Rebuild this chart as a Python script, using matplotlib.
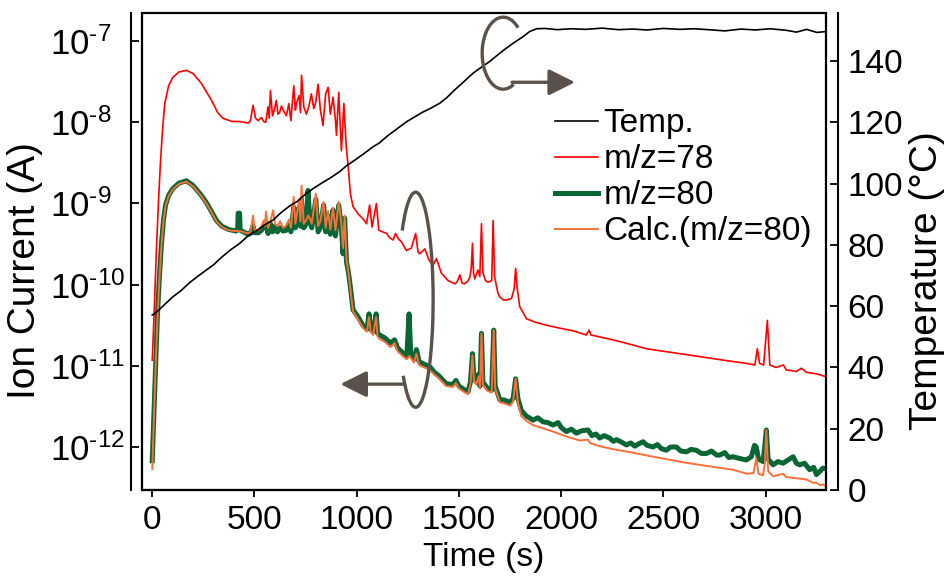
import numpy as np
import matplotlib
matplotlib.use("Agg")
import matplotlib.pyplot as plt
from matplotlib.patches import Arc, Rectangle
from matplotlib.ticker import FixedLocator, FuncFormatter, NullLocator

plt.rcParams['font.family'] = ['Liberation Sans', 'DejaVu Sans']
plt.rcParams['mathtext.fontset'] = 'custom'
plt.rcParams['mathtext.rm'] = 'Liberation Sans'
plt.rcParams['mathtext.default'] = 'regular'

# ---------------- data ----------------
# m/z = 78 : time (s), log10(ion current / A)
t78 = [0, 10, 20, 30, 40, 50, 61, 80, 100, 130, 167, 200, 240, 290, 320, 345, 390, 428, 470, 480,
       493, 505, 518, 534, 545, 555, 566, 572, 578, 588, 597, 607, 615, 623, 632, 640, 656, 668, 678,
       692, 700, 705, 718, 725, 730, 741, 754, 767, 778, 790, 800, 811, 822, 835, 848, 860, 871, 884,
       896, 901, 912, 925, 937, 949, 957, 969, 982, 1007, 1031, 1048, 1063, 1075, 1096, 1108, 1146,
       1160, 1178, 1190, 1205, 1218, 1243, 1267, 1288, 1300, 1308, 1333, 1354, 1373, 1390, 1414, 1447,
       1480, 1490, 1505, 1515, 1529, 1545, 1553, 1560, 1566, 1571, 1577, 1593, 1602, 1610, 1617, 1630,
       1642, 1660, 1667, 1674, 1690, 1699, 1718, 1732, 1757, 1770, 1777, 1785, 1797, 1830, 1870, 1928,
       2000, 2060, 2123, 2136, 2145, 2200, 2253, 2330, 2417, 2500, 2580, 2660, 2742, 2820, 2906, 2947,
       2959, 2970, 2990, 3008, 3020, 3050, 3087, 3100, 3150, 3175, 3200, 3250, 3297]
m78_log10 = [-10.93, -10.3, -9.6, -9.0, -8.5, -8.1, -7.77, -7.55, -7.45, -7.38, -7.36, -7.40, -7.52,
             -7.73, -7.88, -7.95, -7.99, -7.99, -8.01, -7.98,
             -7.79, -7.95, -7.98, -7.94, -7.99, -8.00, -7.81, -7.95, -7.61, -7.92, -7.85, -7.73, -7.90,
             -7.88, -7.80, -7.85, -7.92, -7.77, -7.98,
             -7.55, -7.85, -7.77, -7.67, -7.88, -7.42, -7.81, -7.90, -7.79, -7.65, -7.83, -7.75, -7.53,
             -7.84, -8.04, -7.65, -7.57, -7.90, -7.69,
             -7.98, -8.16, -7.63, -8.35, -7.77, -8.31, -8.51, -8.88, -9.04, -9.13, -9.19, -9.25, -9.02,
             -9.29, -9.00, -9.33, -9.37,
             -9.42, -9.45, -9.37, -9.44, -9.47, -9.58, -9.55, -9.37, -9.60, -9.62, -9.56, -9.70, -9.76,
             -9.68, -9.86, -9.95,
             -9.99, -9.97, -9.88, -9.98, -9.99, -9.95, -9.91, -9.80, -9.49, -9.85, -9.93, -9.82, -9.90,
             -9.25, -9.85, -9.95,
             -9.97, -9.95, -9.21, -9.90, -10.10, -10.15, -10.19, -10.19, -10.17, -10.05, -9.80, -10.05,
             -10.27, -10.42, -10.46, -10.50,
             -10.54, -10.57, -10.62, -10.56, -10.62, -10.65, -10.68, -10.73, -10.79, -10.82, -10.85,
             -10.88, -10.91, -10.94, -10.97, -10.99,
             -10.79, -10.97, -10.99, -10.44, -10.99, -11.02, -10.99, -11.05, -11.07, -11.03, -11.08,
             -11.10, -11.135]

# m/z = 80 (measured)
t80 = [0, 8, 16, 25, 35, 45, 55, 65, 80, 100, 130, 167, 200, 240, 265, 290, 314, 340, 373, 410, 418,
       420, 427, 430, 470, 480, 493, 500, 520, 534, 545, 556, 566, 578, 588, 600, 612, 625, 640, 656,
       668, 678, 692, 700, 718, 725, 730, 741, 754, 762, 770, 780, 800, 811, 822, 838, 848, 860, 871,
       884, 896, 912, 925, 933, 941, 950, 960, 969, 982, 1007, 1030, 1050, 1060, 1068, 1080, 1095,
       1102, 1112, 1140, 1165, 1185, 1200, 1225, 1245, 1256, 1264, 1280, 1292, 1305, 1330, 1357, 1380,
       1400, 1438, 1470, 1485, 1500, 1530, 1544, 1556, 1566, 1573, 1585, 1597, 1603, 1610, 1617, 1640,
       1660, 1670, 1677, 1700, 1718, 1750, 1765, 1777, 1788, 1805, 1830, 1850, 1862, 1885, 1911, 1935,
       1960, 1985, 2000, 2025, 2050, 2074, 2100, 2131, 2150, 2170, 2188, 2210, 2237, 2255, 2270, 2295,
       2319, 2340, 2360, 2380, 2400, 2420, 2449, 2470, 2490, 2514, 2535, 2563, 2585, 2612, 2635, 2661,
       2685, 2710, 2735, 2760, 2775, 2800, 2820, 2840, 2870, 2905, 2930, 2945, 2954, 2965, 2987, 2995,
       3003, 3012, 3036, 3060, 3085, 3110, 3134, 3150, 3166, 3190, 3215, 3235, 3248, 3265, 3280, 3297]
m80_log10 = [-12.17, -11.6, -11.0, -10.4, -9.9, -9.5, -9.2, -9.02, -8.90, -8.82, -8.75, -8.72, -8.78,
             -8.90, -8.99, -9.10, -9.21, -9.28, -9.32, -9.34, -9.30,
             -9.12, -9.12, -9.33, -9.38, -9.37, -9.28, -9.36, -9.36, -9.33, -9.30, -9.22, -9.37, -9.25,
             -9.35, -9.28, -9.35, -9.30, -9.34, -9.33,
             -9.25, -9.35, -9.05, -9.30, -9.05, -9.28, -8.95, -9.30, -9.25, -8.84, -9.20, -9.30, -8.95,
             -9.35, -9.30, -9.02, -9.35, -9.15, -9.38,
             -9.08, -9.40, -9.02, -9.30, -9.62, -9.18, -9.72, -9.86, -10.03, -10.31, -10.40, -10.50,
             -10.55, -10.36, -10.55, -10.58, -10.36,
             -10.60, -10.62, -10.66, -10.72, -10.68, -10.78, -10.84, -10.88, -10.36, -10.85, -10.92,
             -10.80, -10.95, -10.98, -11.01, -11.08,
             -11.12, -11.22, -11.23, -11.18, -11.25, -11.30, -11.32, -11.20, -10.85, -11.15, -11.20,
             -11.10, -11.25, -10.60, -11.20, -11.28,
             -11.30, -10.56, -11.25, -11.42, -11.42, -11.45, -11.40, -11.16, -11.40, -11.55, -11.62,
             -11.65, -11.67, -11.64, -11.69, -11.70,
             -11.73, -11.70, -11.76, -11.81, -11.78, -11.83, -11.80, -11.79, -11.86, -11.84, -11.89,
             -11.86, -11.89, -11.93, -11.91, -11.94,
             -11.975, -11.95, -11.99, -11.96, -11.935, -11.98, -12.00, -11.97, -12.02, -12.04, -12.00,
             -12.00, -12.05, -12.06, -12.03, -12.04,
             -12.08, -12.08, -12.05, -12.10, -12.10, -12.07, -12.13, -12.12, -12.14, -12.16, -12.12,
             -11.98, -12.00, -12.15, -12.18, -12.00,
             -11.79, -12.15, -12.22, -12.18, -12.20, -12.16, -12.12, -12.20, -12.22, -12.20, -12.28,
             -12.25, -12.34, -12.30, -12.26, -12.27]

# Calculated m/z = 80
tcalc = [0, 8, 16, 25, 35, 45, 55, 65, 80, 100, 130, 167, 200, 240, 265, 290, 314, 340, 373, 410,
         430, 470, 480, 493, 500, 520, 534, 545, 552, 556, 566, 578, 591, 600, 612, 625, 640, 656, 668,
         678, 692, 700, 718, 725, 730, 741, 754, 762, 770, 780, 800, 811, 822, 838, 848, 860, 871, 884,
         896, 912, 925, 933, 941, 950, 960, 969, 982, 1007, 1030, 1050, 1060, 1068, 1080, 1095, 1102,
         1112, 1140, 1165, 1185, 1200, 1225, 1245, 1256, 1264, 1280, 1292, 1305, 1330, 1357, 1380, 1400,
         1438, 1470, 1485, 1500, 1530, 1544, 1556, 1566, 1573, 1585, 1597, 1603, 1610, 1617, 1640, 1660,
         1670, 1677, 1700, 1718, 1750, 1765, 1777, 1788, 1805, 1830, 1862, 1911, 1960, 2025, 2090, 2131,
         2140, 2188, 2260, 2351, 2430, 2514, 2600, 2677, 2760, 2840, 2909, 2940, 2954, 2965, 2987, 2996,
         3003, 3012, 3036, 3085, 3100, 3166, 3200, 3230, 3248, 3265, 3280, 3297]
calc80_log10 = [-12.27, -11.65, -11.05, -10.45, -9.93, -9.52, -9.22, -9.03, -8.91, -8.83, -8.76, -8.73,
                -8.79, -8.91, -9.00, -9.11, -9.22, -9.29, -9.33, -9.34,
                -9.34, -9.37, -9.35, -9.15, -9.32, -9.33, -9.28, -9.21, -9.28, -9.10, -9.30, -9.22, -9.085,
                -9.25, -9.28, -9.22, -9.30, -9.27, -9.20,
                -9.30, -8.92, -9.25, -8.96, -9.22, -8.78, -9.25, -9.20, -9.15, -9.18, -9.25, -8.88, -9.28,
                -9.22, -8.98, -9.30, -9.09, -9.32, -9.05,
                -9.33, -8.98, -9.25, -9.55, -9.15, -9.70, -9.86, -10.05, -10.33, -10.43, -10.53, -10.58,
                -10.40, -10.58, -10.62, -10.40, -10.64,
                -10.67, -10.71, -10.77, -10.72, -10.82, -10.88, -10.92, -10.88, -10.90, -10.96, -10.85,
                -10.99, -11.02, -11.05, -11.11, -11.15,
                -11.25, -11.26, -11.21, -11.28, -11.33, -11.35, -11.23, -10.87, -11.18, -11.23, -11.13,
                -11.28, -10.60, -11.23, -11.31, -11.33,
                -10.56, -11.28, -11.45, -11.46, -11.49, -11.44, -11.16, -11.45, -11.62, -11.68, -11.73,
                -11.77, -11.81, -11.87, -11.92, -11.91,
                -11.95, -11.99, -12.03, -12.07, -12.11, -12.15, -12.19, -12.22, -12.25, -12.28, -12.33,
                -12.32, -12.14, -12.33, -12.35, -12.20,
                -11.79, -12.30, -12.36, -12.33, -12.37, -12.39, -12.40, -12.44, -12.44, -12.47, -12.46,
                -12.49]

# Temperature (deg C)
ttemp = [0, 10, 30, 60, 102, 140, 180, 220, 265, 300, 340, 380, 428, 470, 510, 550, 591, 630, 670,
         710, 754, 790, 830, 870, 917, 950, 990, 1030, 1080, 1110, 1150, 1200, 1245, 1280, 1320, 1360,
         1406, 1440, 1480, 1520, 1569, 1600, 1650, 1690, 1732, 1770, 1813, 1846, 1880, 1920, 1980, 2050,
         2120, 2200, 2280, 2350, 2420, 2500, 2580, 2650, 2720, 2800, 2880, 2950, 3020, 3100, 3150, 3200,
         3250, 3297]
temp_C = [57.1, 57.5, 58.6, 60.5, 63.1, 65.0, 67.5, 69.6, 71.8, 73.5, 76.0, 78.2, 80.5, 83.0, 84.6,
          86.5, 88.1, 90.5, 92.6, 94.2, 96.8, 98.5, 100.2, 101.8, 103.9, 105.8, 107.6, 109.5, 112.0,
          113.2, 115.5, 118.0, 120.2, 121.6, 123.2, 124.5, 126.2, 128.0, 130.6, 133.0, 136.0, 137.5,
          139.8, 142.0, 144.2, 146.0, 147.9, 149.6, 150.5, 150.6, 150.2, 150.5, 150.3, 150.7, 150.2,
          150.4, 150.1, 150.6, 150.3, 150.5, 150.2, 149.8, 150.4, 150.1, 150.5, 150.0, 149.4, 150.3,
          149.3, 149.6]

series_labels = ["Temp.", "m/z=78", "m/z=80", "Calc.(m/z=80)"]
xticks = [0, 500, 1000, 1500, 2000, 2500, 3000]
left_decades = [-12, -11, -10, -9, -8, -7]
right_ticks = [0, 20, 40, 60, 80, 100, 120, 140]

# ---------------- figure ----------------
C_RED = "#ff0000"
C_GREEN = "#0a6634"
C_ORANGE = "#f7703a"
C_ANN = "#5a514b"

fig = plt.figure(figsize=(9.5, 5.83), dpi=100)
ax = fig.add_axes([0.1495, 0.1595, 0.72, 0.818])
ax2 = ax.twinx()

ax.set_yscale("log")
l80, = ax.plot(t80, 10.0 ** np.array(m80_log10), color=C_GREEN, lw=3.6, solid_joinstyle="round")
lcalc, = ax.plot(tcalc, 10.0 ** np.array(calc80_log10), color=C_ORANGE, lw=1.4)
l78, = ax.plot(t78, 10.0 ** np.array(m78_log10), color=C_RED, lw=1.2)
ltemp, = ax2.plot(ttemp, temp_C, color="black", lw=1.2)

ax.set_xlim(-50, 3295)
ax.set_ylim(10 ** -12.53, 10 ** -6.655)
ax2.set_ylim(0, 155.6)

ax.yaxis.set_major_locator(FixedLocator([10.0 ** d for d in left_decades]))
ax.yaxis.set_minor_locator(NullLocator())
ax.yaxis.set_major_formatter(
    FuncFormatter(lambda v, p: "$10^{\u2010%d}$" % abs(int(round(np.log10(v))))))
ax.set_xticks(xticks)
ax2.set_yticks(right_ticks)

for s in ["top", "right"]:
    ax.spines[s].set_visible(False)
for s in ["top", "left", "bottom"]:
    ax2.spines[s].set_visible(False)
ax.spines["left"].set_position(("outward", 8))
ax2.spines["right"].set_position(("outward", 8.5))
ax.spines["left"].set_linewidth(1.5)
ax2.spines["right"].set_linewidth(1.5)
ax.spines["bottom"].set_linewidth(1.5)

box = Rectangle((0, 0), 1, 1, transform=ax.transAxes, fill=False, lw=1.6, ec="black",
                clip_on=False, zorder=10)
ax2.add_patch(box)

ax.tick_params(axis="y", direction="in", length=6, width=1.3, labelsize=25, pad=58)
ax.tick_params(axis="x", direction="out", length=5, width=1.3, labelsize=24, pad=6)
ax2.tick_params(axis="y", direction="in", length=6, width=1.3, labelsize=24, pad=7)
for lab in ax.get_yticklabels():
    lab.set_horizontalalignment("left")

ax.set_xlabel("Time (s)", fontsize=24, labelpad=4)
ax.set_ylabel("Ion Current (A)", fontsize=28, va="center")
ax.yaxis.set_label_coords(-0.171, 0.46)
ax2.set_ylabel("Temperature (\u00b0C)", fontsize=28, va="center", rotation=90)
ax2.yaxis.set_label_coords(1.148, 0.44)

# ---------------- annotation arcs & arrows ----------------
def arc_axes(cx, cy, w, h, phi1, phi2):
    # convert parametric angles to Arc's angle convention
    def conv(phi):
        p = np.deg2rad(phi)
        return np.rad2deg(np.arctan2((h / w) * np.sin(p), np.cos(p)))
    a1, a2 = conv(phi1), conv(phi2)
    if a2 <= a1:
        a2 += 360
    return Arc((cx, cy), w, h, theta1=a1, theta2=a2, transform=ax.transAxes,
               color=C_ANN, lw=2.4, zorder=12, clip_on=False)

ax2.add_patch(arc_axes(0.400, 0.399, 0.0512, 0.451, -135, 140))
ax2.annotate("", xy=(0.290, 0.222), xytext=(0.384, 0.222), xycoords="axes fraction",
             textcoords="axes fraction",
             arrowprops=dict(arrowstyle="-|>,head_length=0.8,head_width=0.4", color=C_ANN, lw=2.4,
                             shrinkA=0, shrinkB=0, mutation_scale=20), zorder=12)

ax2.add_patch(arc_axes(0.528, 0.916, 0.0614, 0.151, 45, 300))
ax2.annotate("", xy=(0.633, 0.855), xytext=(0.541, 0.855), xycoords="axes fraction",
             textcoords="axes fraction",
             arrowprops=dict(arrowstyle="-|>,head_length=0.8,head_width=0.4", color=C_ANN, lw=2.4,
                             shrinkA=0, shrinkB=0, mutation_scale=20), zorder=12)

# ---------------- legend ----------------
ax2.legend([ltemp, l78, l80, lcalc], series_labels, loc="upper left", bbox_to_anchor=(0.604, 0.80),
           frameon=False, fontsize=24, handlelength=1.3, handletextpad=0.15, labelspacing=0.15,
           borderpad=0, borderaxespad=0)

fig.savefig("out.png", dpi=100)
